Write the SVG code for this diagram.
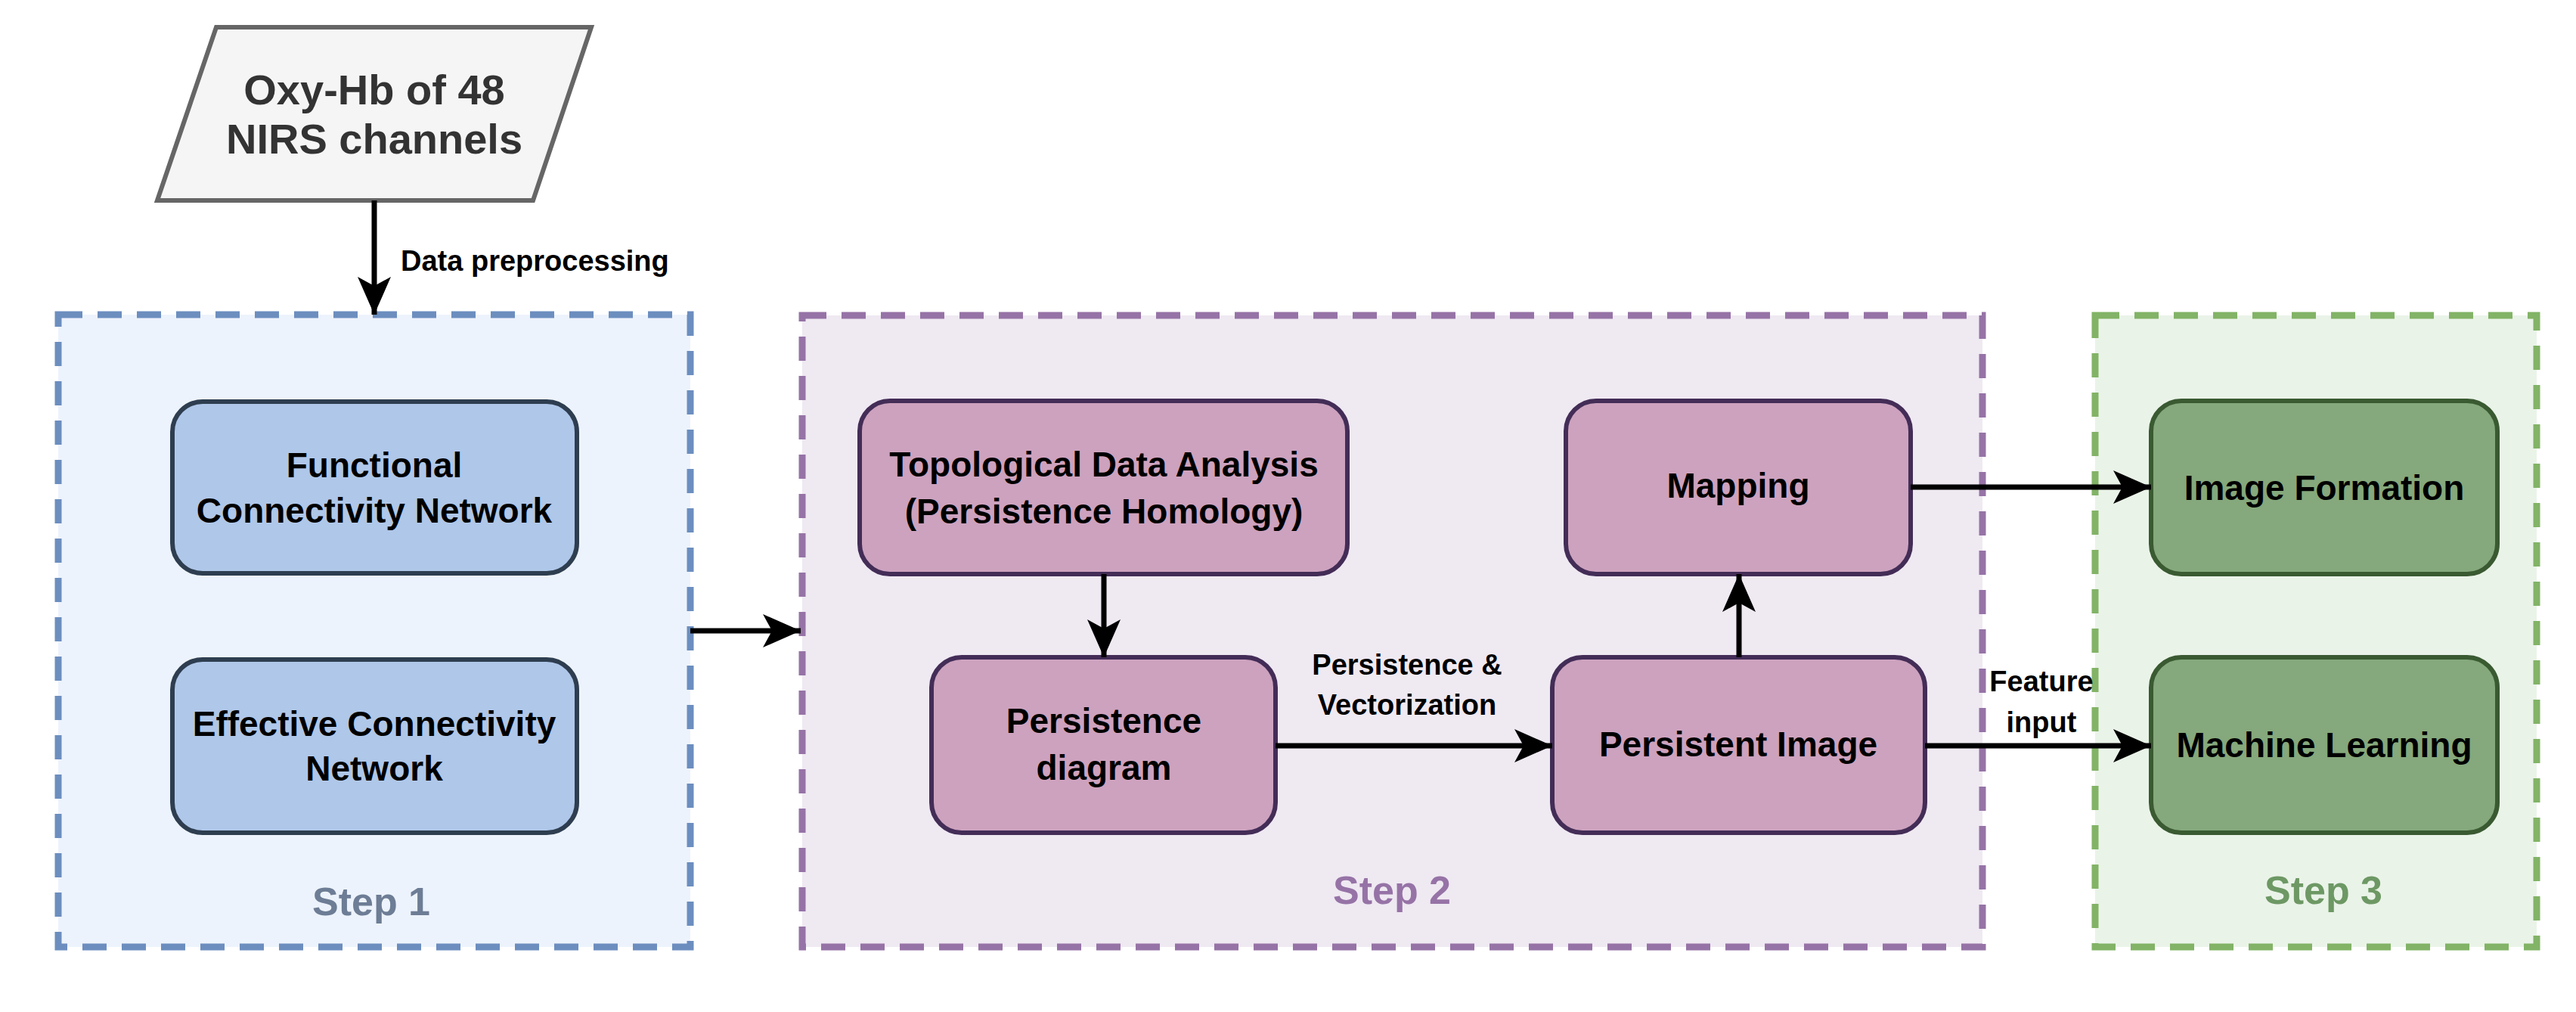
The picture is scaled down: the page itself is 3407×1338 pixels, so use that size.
<svg xmlns="http://www.w3.org/2000/svg" width="3407" height="1338" viewBox="0 0 3407 1338">
<style>
text{font-family:"Liberation Sans",Arial,sans-serif;font-weight:bold;text-anchor:middle}
.n{font-size:46px;fill:#000}
.lbl{font-size:38px;fill:#000}
.step{font-size:52px}
.e{stroke:#000;stroke-width:7;fill:none;marker-end:url(#ah)}
.grp{stroke-width:9;stroke-dasharray:32 20}
</style>
<defs>
<marker id="ah" markerUnits="userSpaceOnUse" markerWidth="60" markerHeight="60" viewBox="0 0 60 60" refX="50" refY="30" orient="auto">
<path d="M0,8 L50,30 L0,52 L12,30 Z" fill="#000"/>
</marker>
</defs>
<g id="step1">
<rect class="grp" x="77" y="416" width="836" height="836" fill="#edf3fc" stroke="#6c8ebf"/>
<text class="step" x="491" y="1210" fill="#6d7d95">Step 1</text>
</g>
<g id="step2">
<rect class="grp" x="1061" y="417" width="1561" height="835" fill="#efe9f2" stroke="#9673a6"/>
<text class="step" x="1841" y="1195" fill="#9673a6">Step 2</text>
</g>
<g id="step3">
<rect class="grp" x="2771" y="417" width="584" height="835" fill="#eaf3e8" stroke="#82b366"/>
<text class="step" x="3073" y="1195" fill="#6d9864">Step 3</text>
</g>
<g id="input">
<polygon points="286,36 782,36 705,265 208,265" fill="#f5f5f5" stroke="#666" stroke-width="6"/>
<text x="495" y="138" font-size="56" fill="#333">Oxy-Hb of 48</text>
<text x="495" y="203" font-size="56" fill="#333">NIRS channels</text>
</g>
<g id="fcn">
<rect x="228" y="531" width="535" height="227" rx="40" fill="#afc7e9" stroke="#2e3e50" stroke-width="6"/>
<text class="n" x="495" y="631">Functional</text>
<text class="n" x="495" y="691">Connectivity Network</text>
</g>
<g id="ecn">
<rect x="228" y="872" width="535" height="229" rx="40" fill="#afc7e9" stroke="#2e3e50" stroke-width="6"/>
<text class="n" x="495" y="973">Effective Connectivity</text>
<text class="n" x="495" y="1032">Network</text>
</g>
<g id="tda">
<rect x="1137" y="530" width="645" height="229" rx="40" fill="#cda2be" stroke="#432d57" stroke-width="6"/>
<text class="n" x="1460" y="630">Topological Data Analysis</text>
<text class="n" x="1460" y="692">(Persistence Homology)</text>
</g>
<g id="pd">
<rect x="1232" y="869" width="455" height="232" rx="40" fill="#cda2be" stroke="#432d57" stroke-width="6"/>
<text class="n" x="1460" y="969">Persistence</text>
<text class="n" x="1460" y="1031">diagram</text>
</g>
<g id="mapping">
<rect x="2071" y="530" width="456" height="229" rx="40" fill="#cda2be" stroke="#432d57" stroke-width="6"/>
<text class="n" x="2299" y="658">Mapping</text>
</g>
<g id="pi">
<rect x="2053" y="869" width="493" height="232" rx="40" fill="#cda2be" stroke="#432d57" stroke-width="6"/>
<text class="n" x="2299" y="1000">Persistent Image</text>
</g>
<g id="if">
<rect x="2845" y="530" width="458" height="229" rx="40" fill="#85a87c" stroke="#3a5a32" stroke-width="6"/>
<text class="n" x="3074" y="661">Image Formation</text>
</g>
<g id="ml">
<rect x="2845" y="869" width="458" height="232" rx="40" fill="#85a87c" stroke="#3a5a32" stroke-width="6"/>
<text class="n" x="3074" y="1001">Machine Learning</text>
</g>
<g id="connectors">
<line class="e" x1="495" y1="265" x2="495" y2="416"/>
<line class="e" x1="913" y1="834" x2="1059" y2="834"/>
<line class="e" x1="1460" y1="759" x2="1460" y2="869"/>
<line class="e" x1="1687" y1="986" x2="2053" y2="986"/>
<line class="e" x1="2300" y1="869" x2="2300" y2="759"/>
<line class="e" x1="2527" y1="644" x2="2845" y2="644"/>
<line class="e" x1="2546" y1="986" x2="2845" y2="986"/>
<text class="lbl" x="530" y="358" style="text-anchor:start">Data preprocessing</text>
<text class="lbl" x="1861" y="892">Persistence &amp;</text>
<text class="lbl" x="1861" y="945">Vectorization</text>
<text class="lbl" x="2700" y="914">Feature</text>
<text class="lbl" x="2700" y="968">input</text>
</g>
</svg>
